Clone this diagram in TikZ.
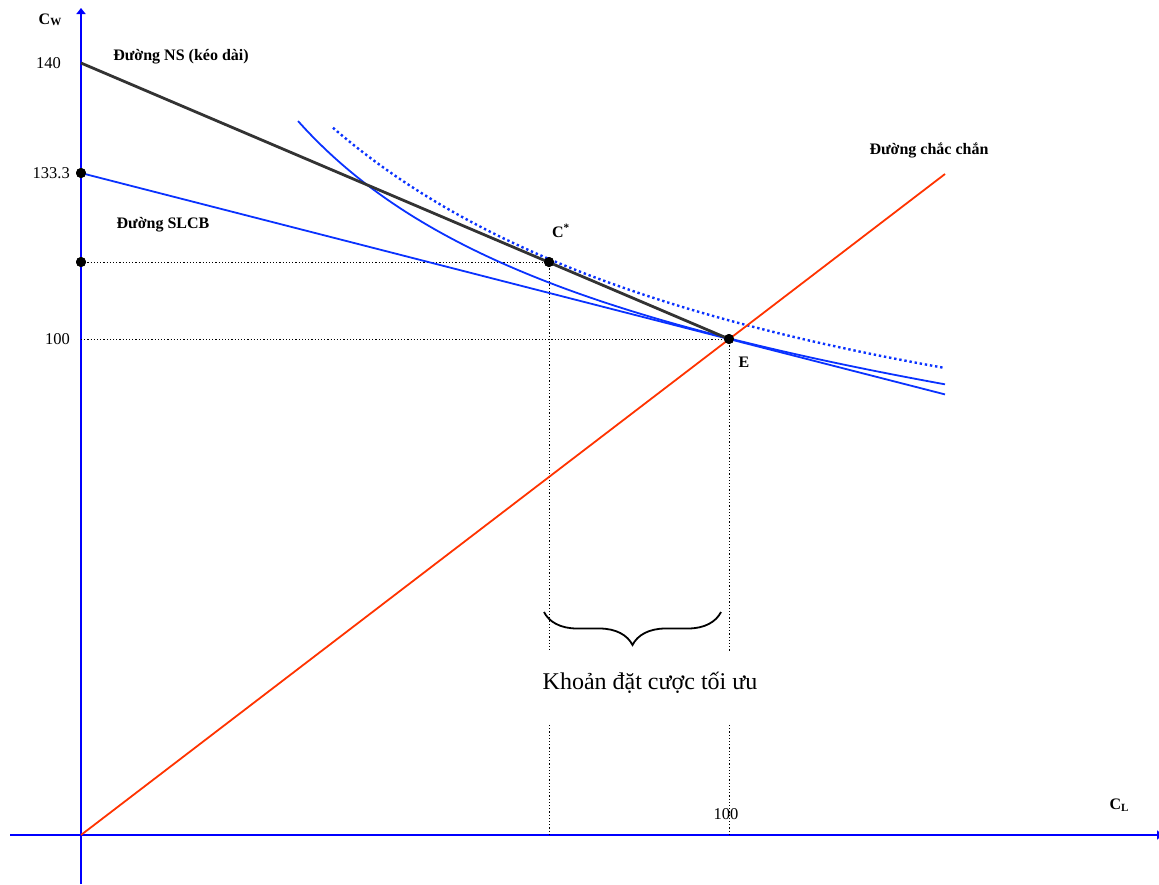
\documentclass[tikz,border=0pt]{standalone}
\usepackage{fontspec}
\setmainfont{Liberation Serif}
\usetikzlibrary{arrows.meta,decorations.pathreplacing}
\definecolor{axisblue}{RGB}{0,0,255}
\definecolor{curveblue}{RGB}{10,50,255}
\definecolor{nsgray}{RGB}{51,51,51}
\definecolor{certred}{RGB}{255,51,0}
\begin{document}
\begin{tikzpicture}[x=1pt,y=-1pt,
  axis/.style={draw=axisblue,line width=1.8pt},
  curve/.style={draw=curveblue,line width=1.8pt},
  guide/.style={draw=black,line width=0.9pt,dash pattern=on 1.2pt off 2pt},
  dotpt/.style={circle,fill=black,inner sep=0pt,minimum size=10pt},
  lbl/.style={font=\fontsize{16}{18}\selectfont\bfseries,inner sep=0pt},
  num/.style={font=\fontsize{16.5}{18}\selectfont,inner sep=0pt}]
\useasboundingbox (0,0) rectangle (1159,884);
% coordinates
\coordinate (O) at (81,835);
\coordinate (ytop) at (81,8);
\coordinate (ybot) at (81,884);
\coordinate (xl) at (10,835);
\coordinate (xr) at (1163,835);
\coordinate (N0) at (81,63);
\coordinate (S1) at (945,394.4);
\coordinate (R1) at (945,174);
\coordinate (Ey0) at (81,339);
\coordinate (g1) at (549,652);
\coordinate (g2) at (549,725);
\coordinate (g3) at (549,835);
\coordinate (h1) at (729,652);
\coordinate (h2) at (729,725);
\coordinate (h3) at (729,835);
\coordinate (br0) at (544,612);
\coordinate (br1) at (721,612);
% axes
\draw[axis,-{Triangle[length=6pt,width=9pt]}] (ybot) -- (ytop);
\draw[axis,-{Triangle[length=6pt,width=9pt]}] (xl) -- (xr);
% point nodes
\node[dotpt] (A133) at (81,173) {};
\node[dotpt] (Ay) at (81,262) {};
\node[dotpt] (Cs) at (549,262) {};
\node[dotpt] (E) at (729,339) {};
% guides
\draw[guide] (Ay.center) -- (Cs.center);
\draw[guide] (Ey0) -- (E.center);
\draw[guide] (Cs.center) -- (g1);
\draw[guide] (g2) -- (g3);
\draw[guide] (E.center) -- (h1);
\draw[guide] (h2) -- (h3);
% curves
\draw[curve] plot[domain=298:945,samples=90] (\x,{407.5+0.0789*\x-923.73/(\x/100)});
\draw[draw=curveblue,line width=2.4pt,dash pattern=on 2.4pt off 2.8pt]
  plot[domain=333:945,samples=90] (\x,{567-2226.83/((\x+174)/100)});
\draw[curve] (A133.center) -- (S1);
\draw[draw=nsgray,line width=2.8pt] (N0) -- (E.center);
\draw[draw=certred,line width=1.8pt] (O) -- (R1);
% redraw dots on top
\fill (A133) circle (5pt);
\fill (Ay) circle (5pt);
\fill (Cs) circle (5pt);
\fill (E) circle (5pt);
% brace
\draw[line width=1.8pt,decorate,decoration={brace,amplitude=33pt}] (br1) -- (br0);
% labels
\node[num,anchor=east] (l140) at (61,63) {140};
\node[num,anchor=east] (l133) at (70,173) {133.3};
\node[num,anchor=east] (l100) at (70,339) {100};
\node[num] (l100x) at (726,814) {100};
\node[lbl] (lNS) at (181,57) {Đường NS (kéo dài)};
\node[lbl] (lSL) at (163,225) {Đường SLCB};
\node[lbl] (lcc) at (929,150) {Đường chắc chắn};
\node[lbl] (lC) at (561,231) {C\textsuperscript{*}};
\node[lbl] (lE) at (744,362) {E};
\node[lbl] (lCw) at (50,20) {C\raisebox{-1.5pt}{\fontsize{11}{11}\selectfont W}};
\node[lbl] (lCL) at (1119,805) {C\raisebox{-1.5pt}{\fontsize{11}{11}\selectfont L}};
\node[font=\fontsize{24}{28}\selectfont,inner sep=0pt] (bet) at (650,683) {Khoản đặt cược tối ưu};
\end{tikzpicture}
\end{document}
